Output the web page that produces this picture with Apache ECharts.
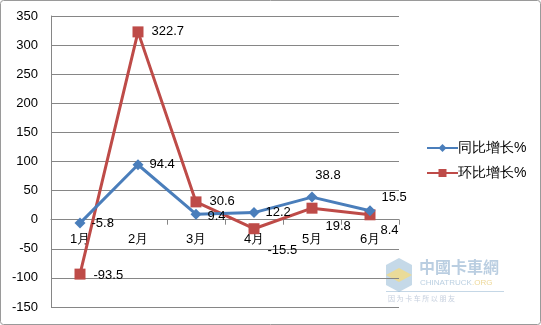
<!DOCTYPE html>
<html>
<head>
<meta charset="utf-8">
<script src="https://cdn.jsdelivr.net/npm/echarts@6/dist/echarts.min.js"></script>
<style>
  html, body { margin: 0; padding: 0; background: #fff; }
  #chart { width: 541px; height: 325px; }
</style>
</head>
<body>
<div id="chart"></div>
<script>
// Monthly growth rates (%), January to June
const months = ['1月', '2月', '3月', '4月', '5月', '6月'];
const yoyGrowth = [-5.8, 94.4, 9.4, 12.2, 38.8, 15.5];     // 同比增长%
const momGrowth = [-93.5, 322.7, 30.6, -15.5, 19.8, 8.4];  // 环比增长%
const yTicks = { min: -150, max: 350, step: 50 };

// Per-point label placement so the numbers don't collide
const yoyLabelPlace = [
  { position: 'right', offset: [0, 0] },
  { position: 'right', offset: [0, 0] },
  { position: 'right', offset: [0, 2] },
  { position: 'right', offset: [0, 0] },
  { position: 'top', offset: [16, -4] },
  { position: 'right', offset: [0, -13] }
];
const momLabelPlace = [
  { position: 'right', offset: [0, 1] },
  { position: 'right', offset: [0, 0] },
  { position: 'right', offset: [0, 0] },
  { position: 'right', offset: [0, 22] },
  { position: 'right', offset: [0, 18] },
  { position: 'right', offset: [-3, 16] }
];

const font = 'Liberation Sans, Arial, sans-serif';
const gridBox = { left: 51, right: 142, top: 16, bottom: 18 };
const plotHeight = 325 - gridBox.top - gridBox.bottom;
// the category axis sits on the value 0 line
const zeroOffset = -plotHeight * (0 - yTicks.min) / (yTicks.max - yTicks.min);

function withLabels(values, places) {
  return values.map((v, i) => ({
    value: v,
    label: { position: places[i].position, offset: places[i].offset }
  }));
}

const chart = echarts.init(document.getElementById('chart'), null, { renderer: 'canvas' });
chart.setOption({
  animation: false,
  backgroundColor: '#ffffff',
  textStyle: { fontFamily: font },
  grid: gridBox,
  legend: {
    orient: 'vertical',
    left: 421,
    top: 136,
    itemWidth: 31,
    itemHeight: 10,
    itemGap: 11,
    textStyle: { fontSize: 14, color: '#000', fontFamily: font, padding: [0, 0, 0, -5] },
    data: ['同比增长%', '环比增长%']
  },
  xAxis: {
    type: 'category',
    data: months,
    boundaryGap: true,
    position: 'bottom',
    offset: zeroOffset,
    axisLine: { onZero: false, lineStyle: { color: '#868686', width: 1 } },
    axisTick: { show: true, length: 5, lineStyle: { color: '#868686' } },
    axisLabel: { fontSize: 13, color: '#000', margin: 13, fontFamily: font }
  },
  yAxis: {
    type: 'value',
    min: yTicks.min,
    max: yTicks.max,
    interval: yTicks.step,
    axisLine: { show: true, lineStyle: { color: '#868686', width: 1 } },
    axisTick: { show: false },
    axisLabel: { fontSize: 13, color: '#000', margin: 13, fontFamily: font },
    splitLine: { lineStyle: { color: '#868686', width: 1 } }
  },
  series: [
    {
      name: '同比增长%',
      type: 'line',
      data: withLabels(yoyGrowth, yoyLabelPlace),
      symbol: 'diamond',
      symbolSize: 11,
      z: 3,
      lineStyle: { color: '#4a7ebb', width: 3 },
      itemStyle: { color: '#4a7ebb' },
      label: { show: true, fontSize: 13, color: '#000', distance: 6, fontFamily: font }
    },
    {
      name: '环比增长%',
      type: 'line',
      data: withLabels(momGrowth, momLabelPlace),
      symbol: 'rect',
      symbolSize: 11,
      z: 2,
      lineStyle: { color: '#be4b48', width: 3 },
      itemStyle: { color: '#be4b48' },
      label: { show: true, fontSize: 13, color: '#000', distance: 8, fontFamily: font }
    }
  ],
  graphic: [
    {
      type: 'rect',
      shape: { x: 0.5, y: 0.5, width: 540, height: 324, r: 3 },
      style: { fill: 'none', stroke: '#9a9a9a', lineWidth: 1 },
      silent: true
    },
    {
      type: 'group',
      left: 386,
      top: 258,
      silent: true,
      children: [
        { type: 'polygon', shape: { points: [[0, 8], [13, 1], [26, 8], [26, 28], [13, 35], [0, 28]] },
          style: { fill: 'rgba(140,180,210,0.5)' } },
        { type: 'polygon', shape: { points: [[0, 18], [13, 11], [26, 18], [13, 25]] },
          style: { fill: 'rgba(250,220,120,0.7)' } },
        { type: 'text', x: 33, y: 2, style: { text: '中國卡車網', fontSize: 16, fill: 'rgba(130,165,200,0.55)', fontFamily: 'Noto Sans CJK TC', fontWeight: 'bold' } },
        { type: 'text', x: 34, y: 22, style: { text: 'CHINATRUCK', fontSize: 8, fill: 'rgba(140,175,205,0.6)', fontFamily: font } },
        { type: 'text', x: 86, y: 22, style: { text: '.ORG', fontSize: 8, fill: 'rgba(230,200,110,0.7)', fontFamily: font } },
        { type: 'rect', shape: { x: 0, y: 34, width: 118, height: 1 }, style: { fill: 'rgba(140,175,205,0.5)' } },
        { type: 'text', x: 2, y: 38, style: { text: '因 为 卡 车 所 以 朋 友', fontSize: 7, fill: 'rgba(140,160,190,0.5)', fontFamily: 'Noto Sans CJK SC' } }
      ]
    }
  ]
});
</script>
</body>
</html>
